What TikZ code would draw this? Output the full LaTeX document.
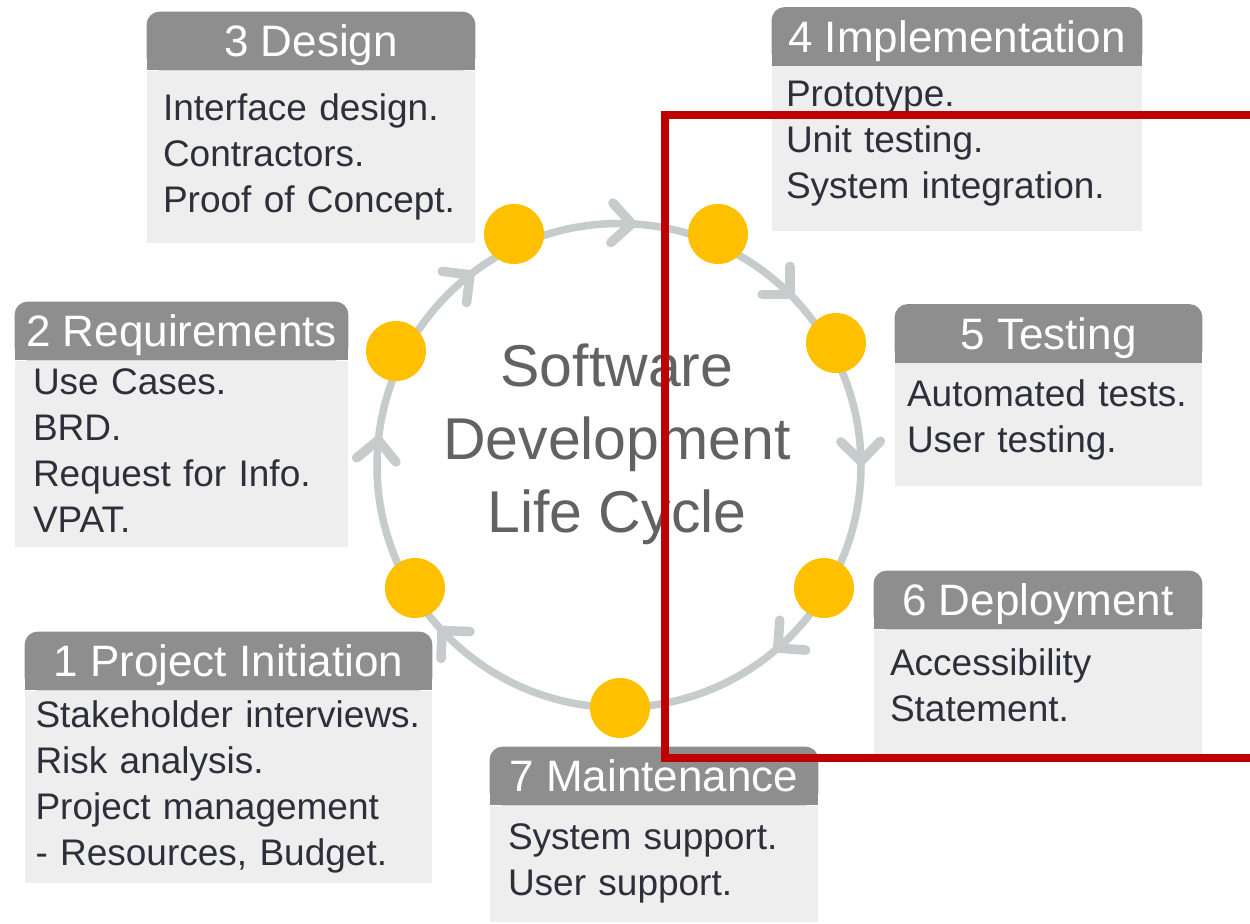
\documentclass[tikz,border=0pt]{standalone}
\usepackage{fontspec}
\setmainfont{Liberation Sans}
\usetikzlibrary{positioning,calc,backgrounds}

\definecolor{hdrgray}{RGB}{142,142,142}
\definecolor{bodygray}{RGB}{238,238,238}
\definecolor{ringgray}{RGB}{198,203,203}
\definecolor{dotyellow}{RGB}{255,192,0}
\definecolor{textdark}{RGB}{45,47,58}
\definecolor{titlegray}{RGB}{98,98,98}
\definecolor{markred}{RGB}{192,0,0}

\begin{document}
\begin{tikzpicture}[x=0.5pt,y=-0.5pt,node distance=0pt,
      line cap=round,line join=round]
    \tikzstyle{phase}=[text=white,inner sep=0pt,minimum height=29pt,
      text height=15.5pt,text depth=0pt,font=\fontsize{22}{26}\selectfont]
    \tikzstyle{tasks}=[fill=bodygray,text=textdark,inner xsep=8pt,
      inner ysep=0pt,align=left,font=\fontsize{18.5}{23}\selectfont]
    \tikzstyle{dot}=[circle,fill=dotyellow,minimum size=30pt,inner sep=0pt]
    \tikzstyle{ring}=[draw=ringgray,line width=3.75pt]
    \tikzstyle{chevron}=[draw=ringgray,line width=4.75pt]

    \useasboundingbox (0,0) rectangle (1250,923);
    \coordinate (c) at (619,465.5);

    % the cycle
    \draw[ring] (c) circle[radius=121pt];
    \foreach \a in {174,128,87,45,1,-49,-137}
      \draw[chevron] ($(c)+(\a:121pt)+(\a+135:14pt)$) -- ($(c)+(\a:121pt)$)
        -- ($(c)+(\a:121pt)+(\a+45:14pt)$);

    \node[dot] (d1) at (415,588) {};
    \node[dot] (d2) at (396,351) {};
    \node[dot] (d3) at (514,234) {};
    \node[dot] (d4) at (718,234) {};
    \node[dot] (d5) at (836,343) {};
    \node[dot] (d6) at (824,588) {};
    \node[dot] (d7) at (620,708) {};

    \node[text=titlegray,align=center,font=\fontsize{29.5}{36.5}\selectfont]
      (title) at (617,444) {Software\\Development\\Life Cycle};

    % the phases
    \node[phase,minimum width=203.5pt] (h1) at (228.5,661) {1 Project Initiation};
    \node[tasks,below=of h1,text width=193pt,inner xsep=5.25pt,minimum height=96pt] (b1)
      {Stakeholder interviews.\\Risk analysis.\\Project management\\- Resources, Budget.};

    \node[phase,minimum width=166.5pt] (h2) at (181.5,331) {2 Requirements};
    \node[tasks,below=of h2,text width=148.5pt,inner xsep=9pt,minimum height=93pt,
      text depth=72pt] (b2)
      {Use Cases.\\BRD.\\Request for Info.\\VPAT.};

    \node[phase,minimum width=164pt] (h3) at (311,41) {3 Design};
    \node[tasks,below=of h3,text width=148pt,minimum height=86pt] (b3)
      {Interface design.\\Contractors.\\Proof of Concept.};

    \node[phase,minimum width=185pt] (h4) at (957,36.5) {4 Implementation};
    \node[tasks,below=of h4,text width=171pt,inner xsep=7pt,minimum height=82.5pt,
      text depth=54.9pt] (b4)
      {Prototype.\\Unit testing.\\System integration.};

    \node[phase,minimum width=153.5pt] (h5) at (1048.5,333.5) {5 Testing};
    \node[tasks,below=of h5,text width=141.5pt,inner xsep=6pt,minimum height=61.5pt,
      text depth=31.9pt] (b5)
      {Automated tests.\\User testing.};

    \node[phase,minimum width=164pt] (h6) at (1038,600) {6 Deployment};
    \node[tasks,below=of h6,text width=148pt,minimum height=62pt,text depth=30pt] (b6)
      {Accessibility\\Statement.};

    \node[phase,minimum width=164pt] (h7) at (654,776) {7 Maintenance};
    \node[tasks,below=of h7,text width=146pt,inner xsep=9pt,minimum height=58pt] (b7)
      {System support.\\User support.};

    \begin{scope}[on background layer]
      \foreach \i in {1,...,7} {
        \fill[hdrgray,rounded corners=6.5pt] (h\i.south west) rectangle (h\i.north east);
        \fill[hdrgray] (h\i.south west) rectangle (h\i.east);
      }
    \end{scope}

    % highlight
    \draw[markred,line width=4pt,line cap=butt,line join=miter]
      (665,115) rectangle (1280,758);
\end{tikzpicture}
\end{document}
